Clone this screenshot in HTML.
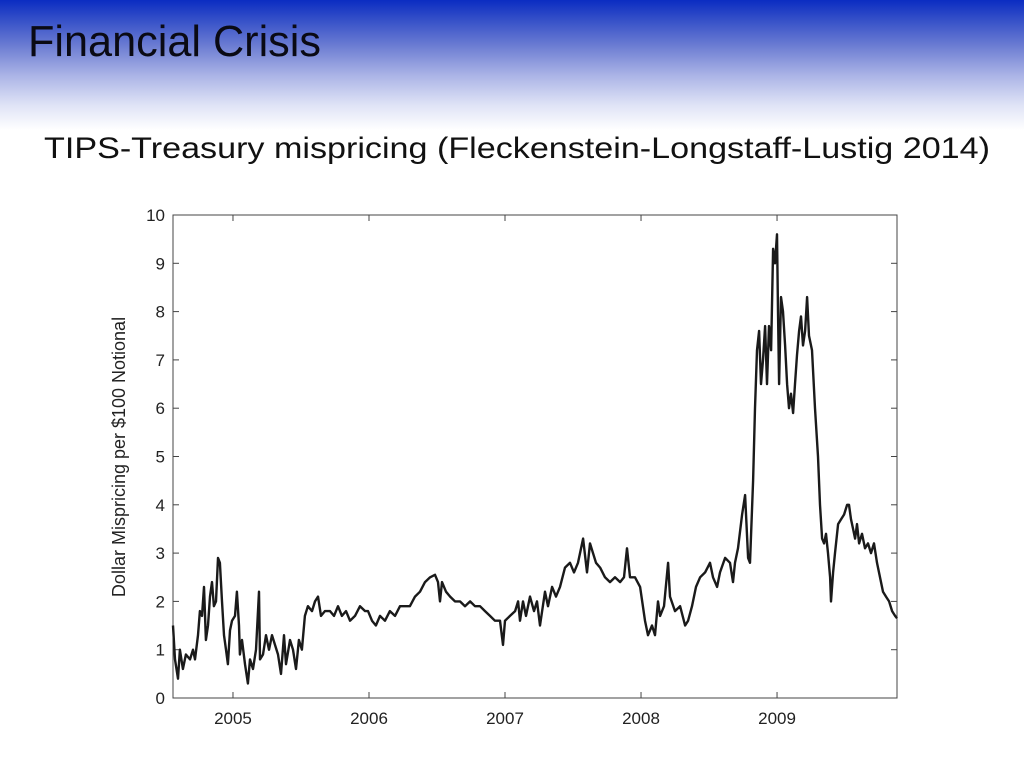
<!DOCTYPE html>
<html><head><meta charset="utf-8"><style>
html,body{margin:0;padding:0;background:#fff;}
body{width:1024px;height:768px;overflow:hidden;position:relative;font-family:"Liberation Sans",sans-serif;}
#hdr{position:absolute;left:0;top:0;width:1024px;height:130px;background:linear-gradient(to bottom,#0b2cc2 0px,#3550c8 20px,#6a7bd2 45px,#aab3e6 75px,#dfe3f6 105px,#ffffff 130px);}
</style></head><body>
<div id="hdr"></div>
<svg width="1024" height="768" style="position:absolute;left:0;top:0">
<text x="28" y="56" font-size="44" textLength="293" lengthAdjust="spacingAndGlyphs" fill="#0a0a14" font-family="Liberation Sans, sans-serif">Financial Crisis</text>
<text x="44" y="158" font-size="30" textLength="946" lengthAdjust="spacingAndGlyphs" fill="#111" font-family="Liberation Sans, sans-serif">TIPS-Treasury mispricing (Fleckenstein-Longstaff-Lustig 2014)</text>
<g id="chart"></g>
</svg>
<script>
const yearTicks=[2005,2006,2007,2008,2009];
const valueTicks=[0,1,2,3,4,5,6,7,8,9,10];
const dates=[2004.559,2004.574,2004.596,2004.610,2004.632,2004.654,2004.684,2004.706,2004.721,2004.743,2004.757,2004.772,2004.787,2004.801,2004.816,2004.831,2004.846,2004.860,2004.875,2004.890,2004.904,2004.919,2004.934,2004.949,2004.963,2004.978,2004.993,2005.015,2005.029,2005.044,2005.051,2005.066,2005.088,2005.110,2005.125,2005.147,2005.169,2005.191,2005.199,2005.221,2005.243,2005.265,2005.287,2005.309,2005.331,2005.353,2005.375,2005.390,2005.419,2005.441,2005.463,2005.485,2005.507,2005.529,2005.551,2005.581,2005.603,2005.625,2005.647,2005.676,2005.713,2005.743,2005.772,2005.801,2005.831,2005.860,2005.897,2005.934,2005.971,2005.993,2006.022,2006.051,2006.081,2006.118,2006.154,2006.191,2006.228,2006.265,2006.301,2006.338,2006.375,2006.412,2006.449,2006.485,2006.507,2006.522,2006.537,2006.566,2006.596,2006.632,2006.669,2006.706,2006.743,2006.779,2006.816,2006.853,2006.890,2006.926,2006.963,2006.985,2007.000,2007.037,2007.074,2007.096,2007.110,2007.132,2007.154,2007.184,2007.213,2007.235,2007.257,2007.294,2007.316,2007.346,2007.375,2007.404,2007.441,2007.478,2007.507,2007.537,2007.574,2007.603,2007.625,2007.669,2007.699,2007.735,2007.772,2007.809,2007.846,2007.875,2007.897,2007.919,2007.956,2007.993,2008.029,2008.051,2008.081,2008.103,2008.125,2008.140,2008.169,2008.199,2008.213,2008.250,2008.287,2008.324,2008.346,2008.375,2008.404,2008.434,2008.471,2008.507,2008.529,2008.559,2008.581,2008.618,2008.654,2008.676,2008.691,2008.713,2008.743,2008.765,2008.787,2008.801,2008.824,2008.838,2008.853,2008.868,2008.882,2008.897,2008.912,2008.926,2008.941,2008.956,2008.971,2008.985,2009.000,2009.007,2009.015,2009.029,2009.044,2009.059,2009.074,2009.088,2009.103,2009.118,2009.132,2009.147,2009.162,2009.176,2009.191,2009.206,2009.221,2009.235,2009.257,2009.279,2009.301,2009.316,2009.331,2009.346,2009.360,2009.375,2009.390,2009.397,2009.412,2009.426,2009.449,2009.471,2009.493,2009.515,2009.529,2009.544,2009.559,2009.574,2009.588,2009.603,2009.625,2009.647,2009.669,2009.691,2009.713,2009.735,2009.757,2009.779,2009.801,2009.824,2009.846,2009.868,2009.882];
const mispricing=[1.5,0.8,0.4,1.0,0.6,0.9,0.8,1.0,0.8,1.3,1.8,1.7,2.3,1.2,1.5,2.1,2.4,1.9,2.0,2.9,2.8,2.0,1.3,1.0,0.7,1.4,1.6,1.7,2.2,1.5,0.9,1.2,0.7,0.3,0.8,0.6,1.0,2.2,0.8,0.9,1.3,1.0,1.3,1.1,0.9,0.5,1.3,0.7,1.2,1.0,0.6,1.2,1.0,1.7,1.9,1.8,2.0,2.1,1.7,1.8,1.8,1.7,1.9,1.7,1.8,1.6,1.7,1.9,1.8,1.8,1.6,1.5,1.7,1.6,1.8,1.7,1.9,1.9,1.9,2.1,2.2,2.4,2.5,2.55,2.4,2.0,2.4,2.2,2.1,2.0,2.0,1.9,2.0,1.9,1.9,1.8,1.7,1.6,1.6,1.1,1.6,1.7,1.8,2.0,1.6,2.0,1.7,2.1,1.8,2.0,1.5,2.2,1.9,2.3,2.1,2.3,2.7,2.8,2.6,2.8,3.3,2.6,3.2,2.8,2.7,2.5,2.4,2.5,2.4,2.5,3.1,2.5,2.5,2.3,1.6,1.3,1.5,1.3,2.0,1.7,1.9,2.8,2.1,1.8,1.9,1.5,1.6,1.9,2.3,2.5,2.6,2.8,2.5,2.3,2.6,2.9,2.8,2.4,2.8,3.1,3.8,4.2,2.9,2.8,4.5,6.0,7.2,7.6,6.5,7.0,7.7,6.5,7.7,7.2,9.3,9.0,9.6,8.0,6.5,8.3,8.0,7.3,6.5,6.0,6.3,5.9,6.5,7.1,7.6,7.9,7.3,7.6,8.3,7.5,7.2,6.0,5.0,4.0,3.3,3.2,3.4,3.0,2.5,2.0,2.6,3.0,3.6,3.7,3.8,4.0,4.0,3.7,3.5,3.3,3.6,3.2,3.4,3.1,3.2,3.0,3.2,2.8,2.5,2.2,2.1,2.0,1.8,1.7,1.65];

const NS='http://www.w3.org/2000/svg';
const L=173,R=897,T=215,B=698;
const X0=2004.559,X1=2009.882;
const xScale=t=>L+(t-X0)/(X1-X0)*(R-L);
const yScale=v=>B-(v/10)*(B-T);
const g=document.getElementById('chart');
function mk(tag,attrs){const e=document.createElementNS(NS,tag);for(const k in attrs)e.setAttribute(k,attrs[k]);g.appendChild(e);return e;}

const frame=mk('rect',{x:L,y:T,width:R-L,height:B-T,fill:'#fff',stroke:'#444','stroke-width':1});



valueTicks.forEach(v=>{
  const y=yScale(v);
  const t1=mk('line',{x1:L,x2:L+6,y1:y,y2:y,stroke:'#444'});
  
  
  const t2=mk('line',{x1:R-6,x2:R,y1:y,y2:y,stroke:'#444'});
  
  
  const lb=mk('text',{x:L-8,y:y+6,'text-anchor':'end','font-size':17,fill:'#222'});
  lb.textContent=v;
  
  
});
yearTicks.forEach(yr=>{
  const x=xScale(yr);
  const t1=mk('line',{x1:x,x2:x,y1:B,y2:B-6,stroke:'#444'});
  
  
  const t2=mk('line',{x1:x,x2:x,y1:T,y2:T+6,stroke:'#444'});
  
  
  const lb=mk('text',{x:x,y:B+26,'text-anchor':'middle','font-size':17,fill:'#222'});
  lb.textContent=yr;
  
  
});
const yt=mk('text',{x:0,y:0,'text-anchor':'middle','font-size':18,fill:'#222',transform:'translate(125,457) rotate(-90)'});
yt.textContent='Dollar Mispricing per $100 Notional';



const d=dates.map((t,i)=>(i?'L':'M')+xScale(t).toFixed(1)+','+yScale(mispricing[i]).toFixed(1)).join(' ');
const line=mk('path',{d:d,fill:'none',stroke:'#1a1a1a','stroke-width':2.4,'stroke-linejoin':'round'});


</script>
</body></html>
